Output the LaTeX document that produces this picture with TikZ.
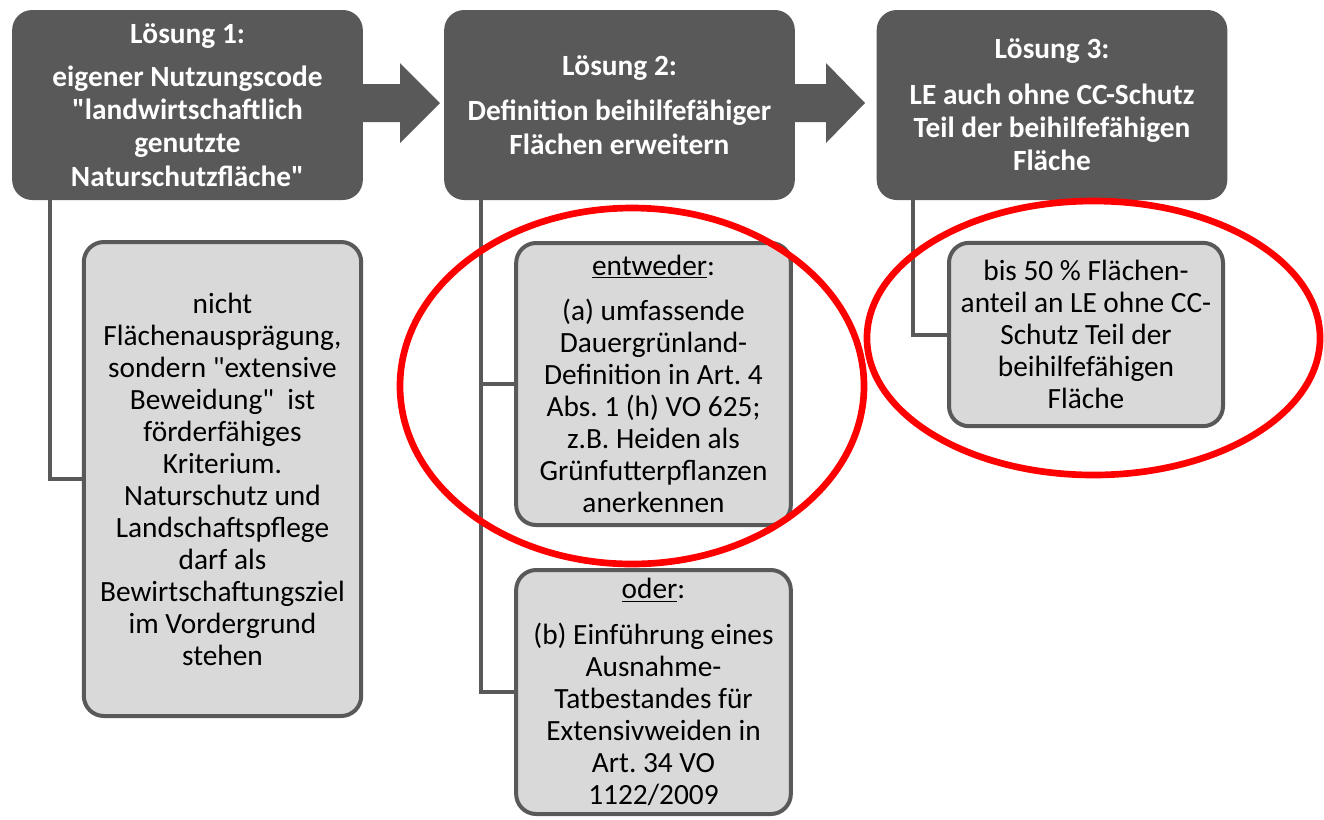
\documentclass[tikz,border=0pt]{standalone}
\usepackage{fontspec}
\setmainfont{Carlito}[Ligatures=TeXOff]
\usetikzlibrary{calc}
\definecolor{dk}{HTML}{595959}
\definecolor{lt}{HTML}{D9D9D9}
\definecolor{rd}{HTML}{FF0000}
\frenchspacing
\begin{document}
\begin{tikzpicture}[x=0.75pt,y=-0.75pt,
  topbox/.style={fill=dk, rounded corners=15pt, text=white,
    font=\fontsize{22}{25}\selectfont\bfseries, align=center,
    minimum width=263pt, minimum height=142.5pt, inner sep=0pt},
  subbox/.style={fill=lt, draw=dk, line width=3pt, rounded corners=15pt,
    font=\fontsize{22}{24}\selectfont, align=center, inner sep=0pt},
  conn/.style={draw=dk, line width=3pt},
  blockarrow/.style={fill=dk},
  hilite/.style={draw=rd, line width=5pt}]
\useasboundingbox (0,0) rectangle (1324,819);

% top boxes
\node[topbox] (b1) at (187.5,105) {Lösung 1:\\[7pt]eigener Nutzungscode\\"landwirtschaftlich\\genutzte\\Naturschutzfläche"};
\node[topbox] (b2) at (619.5,105) {Lösung 2:\\[9pt]Definition beihilfefähiger\\Flächen erweitern};
\node[topbox] (b3) at (1052,105) {Lösung 3:\\[9pt]LE auch ohne CC-Schutz\\Teil der beihilfefähigen\\Fläche};

% block arrows
\fill[blockarrow] (360,84) -- (400,84) -- (400,63) -- (440,103) -- (400,143) -- (400,122) -- (360,122) -- cycle;
\fill[blockarrow] (790,84) -- (826,84) -- (826,63) -- (865,103) -- (826,143) -- (826,122) -- (790,122) -- cycle;

% sub boxes
\node[subbox, minimum width=208pt, minimum height=355.5pt] (s1) at (222.5,479)
  {nicht\\Flächenausprägung,\\sondern "extensive\\Beweidung"\ \ ist\\förderfähiges\\Kriterium.\\Naturschutz und\\Landschaftspflege\\darf als\\Bewirtschaftungsziel\\im Vordergrund\\stehen};
\node[subbox, minimum width=206pt, minimum height=211.5pt] (e) at (653.5,384)
  {\underline{entweder}:\\[10pt](a) umfassende\\Dauergrünland-\\Definition in Art. 4\\Abs. 1 (h) VO 625;\\z.B. Heiden als\\Grünfutterpflanzen\\anerkennen};
\node[subbox, minimum width=206pt, minimum height=183pt] (o) at (653.5,692)
  {\underline{oder}:\\[10pt](b) Einführung eines\\Ausnahme-\\Tatbestandes für\\Extensivweiden in\\Art. 34 VO\\1122/2009};
\node[subbox, minimum width=205.5pt, minimum height=137.5pt] (s3) at (1086,334.5)
  {bis 50 \% Flächen-\\anteil an LE ohne CC-\\Schutz Teil der\\beihilfefähigen\\Fläche};

% connectors
\draw[conn] ($(b1.south west)+(38,0)$) |- (s1.west);
\draw[conn] ($(b2.south west)+(37,0)$) |- (e.west);
\draw[conn] ($(b2.south west)+(37,0)$) |- (o.west);
\draw[conn] ($(b3.south west)+(37,0)$) |- (s3.west);

% red highlight ellipses
\draw[hilite] (632,386) ellipse [x radius=174pt, y radius=133.5pt];
\draw[hilite] (1093.5,338) ellipse [x radius=169.9pt, y radius=102.75pt];
\end{tikzpicture}
\end{document}
